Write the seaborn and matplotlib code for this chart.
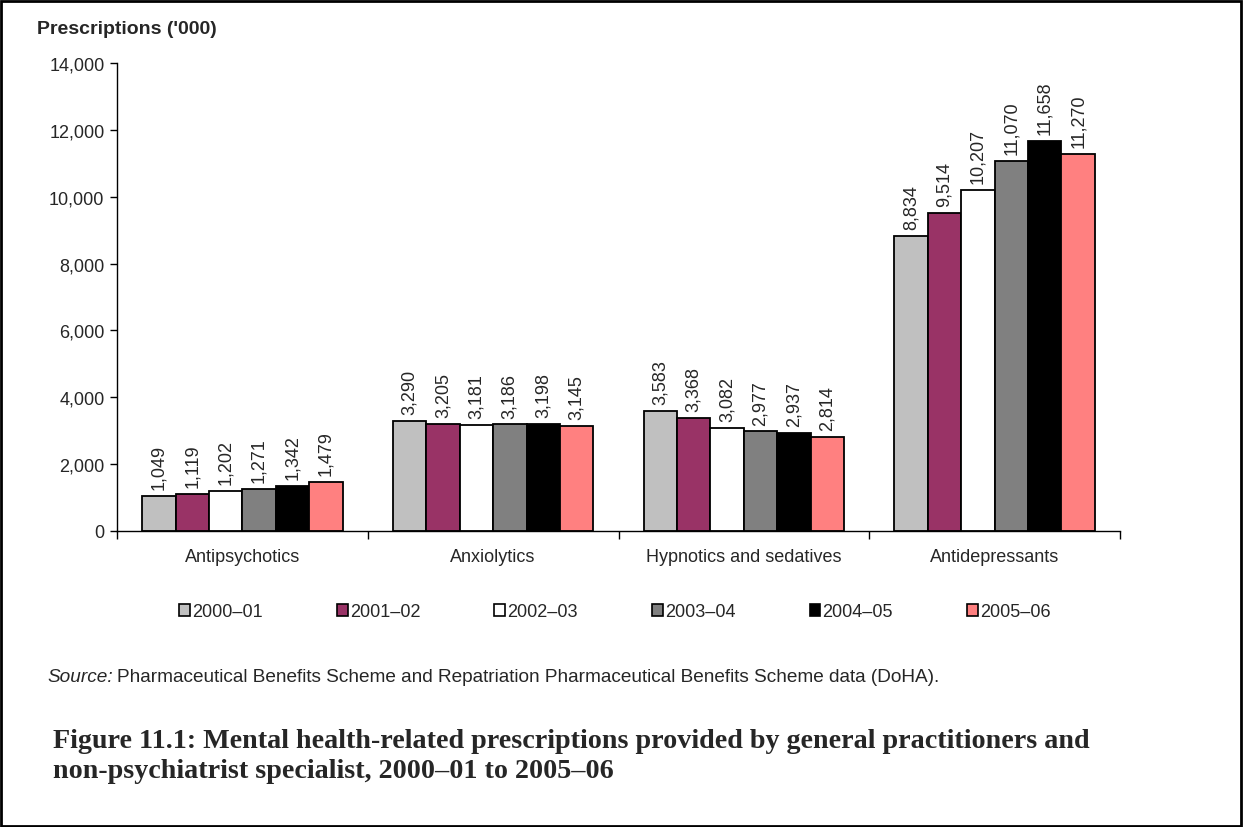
import numpy as np
import pandas as pd
import matplotlib
matplotlib.use("Agg")
import matplotlib.pyplot as plt
from matplotlib.patches import Patch, Rectangle
import seaborn as sns

categories = ["Antipsychotics", "Anxiolytics", "Hypnotics and sedatives", "Antidepressants"]
years = ["2000\u201301", "2001\u201302", "2002\u201303", "2003\u201304", "2004\u201305", "2005\u201306"]

v_2000_01 = [1049, 3290, 3583, 8834]
v_2001_02 = [1119, 3205, 3368, 9514]
v_2002_03 = [1202, 3181, 3082, 10207]
v_2003_04 = [1271, 3186, 2977, 11070]
v_2004_05 = [1342, 3198, 2937, 11658]
v_2005_06 = [1479, 3145, 2814, 11270]

colors = ["#C0C0C0", "#993366", "#FFFFFF", "#808080", "#000000", "#FF8080"]

series = [v_2000_01, v_2001_02, v_2002_03, v_2003_04, v_2004_05, v_2005_06]
df = pd.DataFrame(
    [(c, y, v) for y, vals in zip(years, series) for c, v in zip(categories, vals)],
    columns=["category", "year", "value"],
)

sns.set_style("white")
plt.rcParams["font.family"] = ["Liberation Sans", "DejaVu Sans"]
FS = 13

fig = plt.figure(figsize=(12.43, 8.28), dpi=100)
ax = fig.add_axes([117 / 1243, 1 - 532 / 828, (1120 - 117) / 1243, (532 - 64) / 828])

sns.barplot(
    data=df, x="category", y="value", hue="year", order=categories, hue_order=years,
    palette=colors, edgecolor="black", linewidth=1.3, width=0.8, ax=ax, legend=False,
    saturation=1,
)

for cont in ax.containers:
    ax.bar_label(cont, labels=[f"{v:,.0f}" for v in cont.datavalues],
                 rotation=90, padding=5, fontsize=FS)

ax.set_ylim(0, 14000)
ax.set_xlim(-0.5, 3.5)
ax.set_yticks(np.arange(0, 14001, 2000))
ax.set_yticklabels([f"{t:,}" for t in range(0, 14001, 2000)], fontsize=FS)
ax.set_xticks(np.arange(-0.5, 4, 1))
ax.set_xticklabels([])
ax.set_xticks(range(4), minor=True)
ax.set_xticklabels(categories, minor=True, fontsize=FS)
ax.tick_params(axis="x", which="major", direction="out", length=6, width=1, color="black", bottom=True)
ax.tick_params(axis="x", which="minor", length=0, pad=12)
ax.tick_params(axis="y", direction="out", length=5, width=1, color="black", left=True, pad=4)
ax.set_xlabel("")
ax.set_ylabel("")
for s in ["top", "right"]:
    ax.spines[s].set_visible(False)
for s in ["left", "bottom"]:
    ax.spines[s].set_color("black")
    ax.spines[s].set_linewidth(1)

fig.text(37 / 1243, 1 - 29 / 828, "Prescriptions ('000)", fontsize=14, fontweight="bold", va="center")

handles = [Patch(facecolor=c, edgecolor="black", linewidth=1.2) for c in colors]
fig.legend(handles, years, loc="center", bbox_to_anchor=(615 / 1243, 1 - 613 / 828), ncol=6,
           frameon=False, fontsize=FS, handlelength=0.6, handleheight=0.6,
           handletextpad=0.12, columnspacing=4.1)

t1 = fig.text(47 / 1243, 1 - 678 / 828, "Source:", fontsize=13.7, style="italic", va="center")
fig.canvas.draw()
bb = t1.get_window_extent()
fig.text((bb.x1 + 4) / 1243, 1 - 678 / 828,
         "Pharmaceutical Benefits Scheme and Repatriation Pharmaceutical Benefits Scheme data (DoHA).",
         fontsize=13.7, va="center")

# fit the serif caption to the width it takes in the reference
cap_lines = ["Figure 11.1: Mental health-related prescriptions provided by general practitioners and",
             "non-psychiatrist specialist, 2000\u201301 to 2005\u201306"]
probe = fig.text(0, 0, cap_lines[0], family="Liberation Serif", fontweight="bold", fontsize=16)
fig.canvas.draw()
cap_fs = 16 * 1040 / probe.get_window_extent().width
probe.remove()
for i, line in enumerate(cap_lines):
    fig.text(53 / 1243, 1 - (742 + 30 * i) / 828, line, family="Liberation Serif",
             fontweight="bold", fontsize=cap_fs, va="center")

fig.add_artist(Rectangle((1 / 1243, 1 / 828), 1240 / 1243, 825 / 828, transform=fig.transFigure,
                         fill=False, edgecolor="black", linewidth=2))

fig.savefig("out.png", dpi=100)
